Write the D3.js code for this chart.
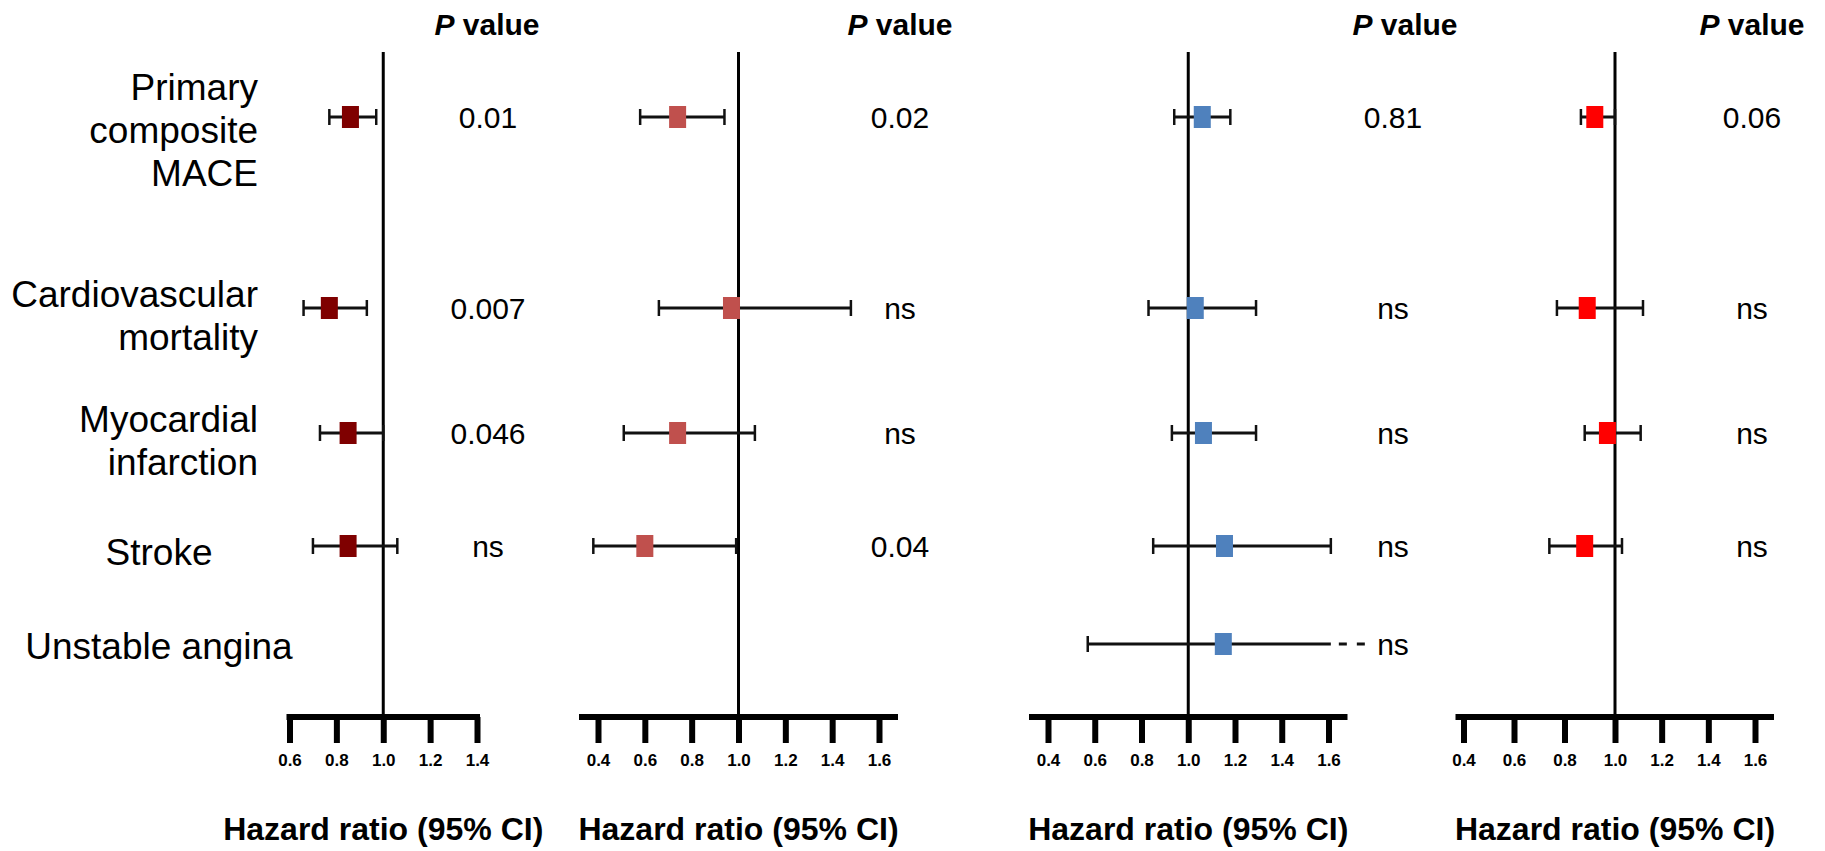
<!DOCTYPE html>
<html>
<head>
<meta charset="utf-8">
<script src="https://cdn.jsdelivr.net/npm/d3@7"></script>
<style>
  html, body { margin: 0; padding: 0; background: #fff; }
  svg { display: block; font-family: "Liberation Sans", Arial, sans-serif; }
</style>
</head>
<body>
<svg id="chart" width="1825" height="851"></svg>
<script>
// Outcomes (rows) and their label lines
const outcomes = ["Primary composite MACE", "Cardiovascular mortality", "Myocardial infarction", "Stroke", "Unstable angina"];
const outcomeLines = [["Primary", "composite", "MACE"], ["Cardiovascular", "mortality"], ["Myocardial", "infarction"], ["Stroke"], ["Unstable angina"]];

// Panel 1 hazard ratios (95% CI) and P values
const hr1 = [0.86, 0.77, 0.85, 0.85];
const lo1 = [0.77, 0.66, 0.73, 0.70];
const hi1 = [0.97, 0.93, 1.00, 1.06];
const p1 = ["0.01", "0.007", "0.046", "ns"];
const ticks1 = [0.6, 0.8, 1.0, 1.2, 1.4];

// Panel 2
const hr2 = [0.74, 0.97, 0.74, 0.60];
const lo2 = [0.58, 0.66, 0.51, 0.38];
const hi2 = [0.94, 1.48, 1.07, 0.99];
const p2 = ["0.02", "ns", "ns", "0.04"];
const ticks2 = [0.4, 0.6, 0.8, 1.0, 1.2, 1.4, 1.6];

// Panel 3 (upper CI of unstable angina runs past the axis end)
const hr3 = [1.06, 1.03, 1.065, 1.155, 1.15];
const lo3 = [0.94, 0.83, 0.93, 0.85, 0.57];
const hi3 = [1.18, 1.29, 1.29, 1.61, 1.61];
const open3 = [false, false, false, false, true];
const p3 = ["0.81", "ns", "ns", "ns", "ns"];
const ticks3 = [0.4, 0.6, 0.8, 1.0, 1.2, 1.4, 1.6];

// Panel 4
const hr4 = [0.92, 0.89, 0.97, 0.88];
const lo4 = [0.865, 0.77, 0.88, 0.74];
const hi4 = [1.00, 1.12, 1.11, 1.03];
const p4 = ["0.06", "ns", "ns", "ns"];
const ticks4 = [0.4, 0.6, 0.8, 1.0, 1.2, 1.4, 1.6];

// ---- layout ----
const rowY = d3.scaleOrdinal(outcomes, [117, 308, 433, 546, 644]);
const labelMid = [130, 315, 440, 552, 646];
const lineGap = 43;
const refTop = 52, axisY = 717, tickLen = 26;
const FONT = '"Liberation Sans", Arial, sans-serif';

const panels = [
  { hr: hr1, lo: lo1, hi: hi1, p: p1, ticks: ticks1, open: [],
    x: d3.scaleLinear().domain([0.6, 1.4]).range([289.5, 477]),
    pad: [3, 3], pX: 488, headX: 487, color: "#7f0000" },
  { hr: hr2, lo: lo2, hi: hi2, p: p2, ticks: ticks2, open: [],
    x: d3.scaleLinear().domain([0.4, 1.6]).range([598, 879]),
    pad: [19, 19], pX: 900, headX: 900, color: "#c0504d" },
  { hr: hr3, lo: lo3, hi: hi3, p: p3, ticks: ticks3, open: open3,
    x: d3.scaleLinear().domain([0.4, 1.6]).range([1048, 1328.5]),
    pad: [19, 19], pX: 1393, headX: 1405, color: "#4f81bd" },
  { hr: hr4, lo: lo4, hi: hi4, p: p4, ticks: ticks4, open: [],
    x: d3.scaleLinear().domain([0.4, 1.0, 1.6]).range([1463.5, 1615, 1755]),
    pad: [8, 19], pX: 1752, headX: 1752, color: "#ff0000" }
];

const svg = d3.select("#chart");
svg.append("rect").attr("width", 1825).attr("height", 851).attr("fill", "#fff");

// Row labels
outcomeLines.forEach((lines, i) => {
  const single = lines.length === 1;
  const t = svg.append("text")
    .attr("font-family", FONT).attr("font-size", 37).attr("fill", "#000")
    .attr("text-anchor", single ? "middle" : "end");
  lines.forEach((ln, j) => {
    const cy = labelMid[i] + (j - (lines.length - 1) / 2) * lineGap;
    t.append("tspan").attr("x", single ? 159 : 258).attr("y", cy + 13).text(ln);
  });
});

panels.forEach(P => {
  const g = svg.append("g");
  const x = P.x;
  const d0 = x.domain()[0], d1 = x.domain()[x.domain().length - 1];

  // header
  const h = g.append("text").attr("x", P.headX).attr("y", 35)
    .attr("text-anchor", "middle").attr("font-family", FONT)
    .attr("font-size", 30).attr("font-weight", "bold").attr("fill", "#000");
  h.append("tspan").attr("font-style", "italic").text("P");
  h.append("tspan").text(" value");

  // reference line at HR = 1
  g.append("line").attr("x1", x(1)).attr("x2", x(1))
    .attr("y1", refTop).attr("y2", axisY)
    .attr("stroke", "#000").attr("stroke-width", 3);

  // axis bar
  g.append("line").attr("x1", x(d0) - P.pad[0]).attr("x2", x(d1) + P.pad[1])
    .attr("y1", axisY).attr("y2", axisY)
    .attr("stroke", "#000").attr("stroke-width", 6);

  // ticks and labels
  const axis = d3.axisBottom(x).tickValues(P.ticks).tickSize(tickLen)
    .tickPadding(11).tickFormat(d3.format(".1f"));
  const ag = g.append("g").attr("transform", `translate(0,${axisY})`).call(axis);
  ag.select(".domain").remove();
  ag.selectAll(".tick line").attr("stroke", "#000").attr("stroke-width", 6);
  ag.selectAll(".tick text").attr("font-family", FONT).attr("font-size", 17)
    .attr("font-weight", "bold").attr("fill", "#000");

  // axis title
  g.append("text").attr("x", x(1)).attr("y", 840).attr("text-anchor", "middle")
    .attr("font-family", FONT).attr("font-size", 32).attr("font-weight", "bold")
    .attr("fill", "#000").text("Hazard ratio (95% CI)");

  const rows = P.hr.map((v, i) => ({ name: outcomes[i], hr: v, lo: P.lo[i], hi: P.hi[i], p: P.p[i], open: !!P.open[i] }));

  // CI whiskers
  g.selectAll(".ci").data(rows).join("line")
    .attr("x1", d => x(d.lo)).attr("x2", d => x(d.hi))
    .attr("y1", d => rowY(d.name)).attr("y2", d => rowY(d.name))
    .attr("stroke", "#111").attr("stroke-width", 3);
  g.selectAll(".capL").data(rows).join("line")
    .attr("x1", d => x(d.lo)).attr("x2", d => x(d.lo))
    .attr("y1", d => rowY(d.name) - 8).attr("y2", d => rowY(d.name) + 8)
    .attr("stroke", "#111").attr("stroke-width", 2.5);
  g.selectAll(".capR").data(rows.filter(d => !d.open)).join("line")
    .attr("x1", d => x(d.hi)).attr("x2", d => x(d.hi))
    .attr("y1", d => rowY(d.name) - 8).attr("y2", d => rowY(d.name) + 8)
    .attr("stroke", "#111").attr("stroke-width", 2.5);
  // dashed continuation for an interval running off the axis
  g.selectAll(".ext").data(rows.filter(d => d.open)).join("line")
    .attr("x1", d => x(d.hi) + 8).attr("x2", d => x(d.hi) + 36)
    .attr("y1", d => rowY(d.name)).attr("y2", d => rowY(d.name))
    .attr("stroke", "#111").attr("stroke-width", 3).attr("stroke-dasharray", "8,10");

  // point estimates
  g.selectAll(".pt").data(rows).join("rect")
    .attr("x", d => x(d.hr) - 8.5).attr("y", d => rowY(d.name) - 11)
    .attr("width", 17).attr("height", 22).attr("fill", P.color);

  // P values
  g.selectAll(".pv").data(rows).join("text")
    .attr("x", P.pX).attr("y", d => rowY(d.name) + 11)
    .attr("text-anchor", "middle").attr("font-family", FONT)
    .attr("font-size", 30).attr("fill", "#000").text(d => d.p);
});
</script>
</body>
</html>
